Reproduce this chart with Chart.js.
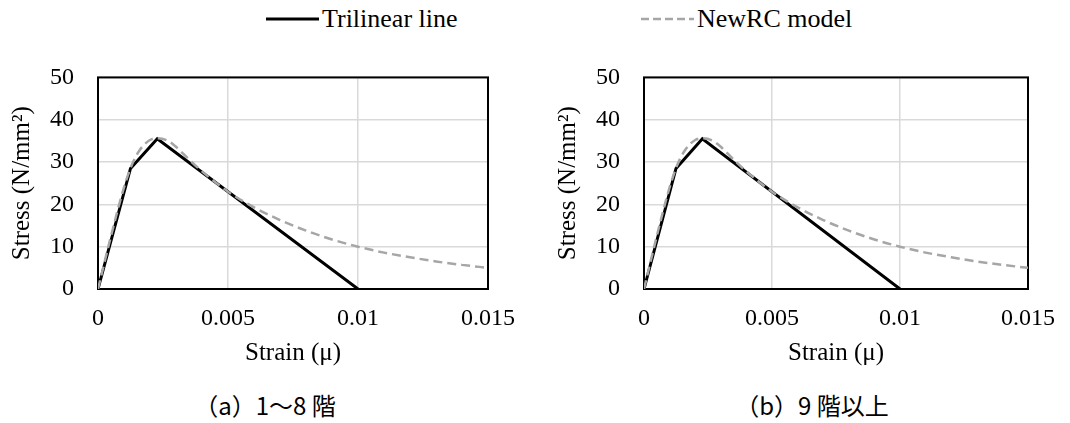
<!DOCTYPE html>
<html>
<head>
<meta charset="utf-8">
<script src="https://cdn.jsdelivr.net/npm/chart.js@4.4.1/dist/chart.umd.min.js"></script>
<style>
  body { margin: 0; background: #fff; }
  #page { position: relative; width: 1070px; height: 423px; overflow: hidden; }
  .chart { position: absolute; top: 39px; }
  .legend-text { position: absolute; top: 4px; font: 26px "Liberation Serif", serif; line-height: 30px; color: #000; white-space: nowrap; }
  .caption { position: absolute; top: 390px; font: 24px "Noto Sans CJK JP", sans-serif; line-height: 30px; color: #000; white-space: nowrap; transform: translateX(-50%); }
</style>
</head>
<body>
<div id="page">
  <!-- shared legend -->
  <svg style="position:absolute;left:266px;top:12px" width="54" height="14">
    <line x1="0" y1="7" x2="53" y2="7" stroke="#000" stroke-width="3"/>
  </svg>
  <div class="legend-text" style="left:322px">Trilinear line</div>
  <svg style="position:absolute;left:640px;top:12px" width="56" height="14">
    <line x1="1" y1="7" x2="54" y2="7" stroke="#a6a6a6" stroke-width="2.5" stroke-dasharray="8,4"/>
  </svg>
  <div class="legend-text" style="left:697px">NewRC model</div>

  <canvas id="chartA" class="chart" style="left:0px" width="530" height="341"></canvas>
  <canvas id="chartB" class="chart" style="left:540px" width="530" height="341"></canvas>

  <div class="caption" style="left:265px">（a）1～8 階</div>
  <div class="caption" style="left:812px">（b）9 階以上</div>
</div>

<script>
// Trilinear stress-strain line
const triStrain = [0, 0.00125, 0.00228, 0.01];
const triStress = [0, 28.5, 35.5, 0];

// NewRC model curve
const rcStrain = [0, 0.0005, 0.001, 0.0013, 0.0016, 0.002, 0.0023, 0.0027, 0.003, 0.0035, 0.004, 0.005,
                  0.006, 0.007, 0.008, 0.009, 0.01, 0.011, 0.012, 0.013, 0.014, 0.015];
const rcStress = [0, 12.5, 24, 29.3, 32.8, 35.2, 35.6, 35, 33.6, 30.6, 27.8, 23,
                  19.3, 16.3, 13.8, 11.7, 10, 8.6, 7.5, 6.5, 5.7, 5.0];

const xTickLabels = ['0', '0.005', '0.01', '0.015'];
const yTicks = [0, 10, 20, 30, 40, 50];

const serif = '"Liberation Serif", serif';

function toPoints(xs, ys) {
    return xs.map((x, i) => ({ x: x, y: ys[i] }));
}

// black frame around the plot area
const frame = {
    id: 'frame',
    beforeDatasetsDraw(chart) {
        const a = chart.chartArea;
        const ctx = chart.ctx;
        ctx.save();
        ctx.strokeStyle = '#000';
        ctx.lineWidth = 2;
        ctx.strokeRect(a.left, a.top, a.right - a.left, a.bottom - a.top);
        ctx.restore();
    }
};

function makeChart(id, padLeft) {
    const ctx = document.getElementById(id).getContext('2d');
    return new Chart(ctx, {
        type: 'line',
        data: {
            datasets: [
                {
                    label: 'NewRC model',
                    data: toPoints(rcStrain, rcStress),
                    borderColor: '#a6a6a6',
                    borderWidth: 2.5,
                    borderDash: [9, 5],
                    pointRadius: 0,
                    tension: 0.4,
                    cubicInterpolationMode: 'monotone',
                    fill: false
                },
                {
                    label: 'Trilinear line',
                    data: toPoints(triStrain, triStress),
                    borderColor: '#000',
                    borderWidth: 3,
                    pointRadius: 0,
                    tension: 0,
                    fill: false
                }
            ]
        },
        options: {
            responsive: false,
            animation: false,
            devicePixelRatio: 1,
            layout: { padding: { top: 15, right: 41, bottom: 0, left: padLeft } },
            plugins: {
                legend: { display: false },
                tooltip: { enabled: false }
            },
            scales: {
                x: {
                    type: 'linear',
                    min: 0,
                    max: 0.015,
                    afterFit: function(scale) { scale.height = 91; },
                    afterBuildTicks: function(scale) {
                        scale.ticks = xTickLabels.map(t => ({ value: parseFloat(t) }));
                    },
                    ticks: {
                        padding: 15,
                        color: '#000',
                        font: { family: serif, size: 24 },
                        callback: function(value, index) { return xTickLabels[index]; }
                    },
                    grid: { color: '#d9d9d9', lineWidth: 1.5, drawTicks: false },
                    border: { display: false },
                    title: {
                        display: true,
                        text: 'Strain (μ)',
                        color: '#000',
                        font: { family: serif, size: 25 },
                        padding: { top: 0, bottom: 12 }
                    }
                },
                y: {
                    min: 0,
                    max: 50,
                    afterFit: function(scale) { scale.width = 98; },
                    afterBuildTicks: function(scale) {
                        scale.ticks = yTicks.map(v => ({ value: v }));
                    },
                    ticks: {
                        padding: 24,
                        color: '#000',
                        font: { family: serif, size: 24 }
                    },
                    grid: { color: '#d9d9d9', lineWidth: 1.5, drawTicks: false },
                    border: { display: false },
                    title: {
                        display: true,
                        text: 'Stress (N/mm²)',
                        color: '#000',
                        font: { family: serif, size: 25 },
                        padding: { top: 7, bottom: 0 }
                    }
                }
            }
        },
        plugins: [frame]
    });
}

makeChart('chartA', 0);
makeChart('chartB', 6);
</script>
</body>
</html>
